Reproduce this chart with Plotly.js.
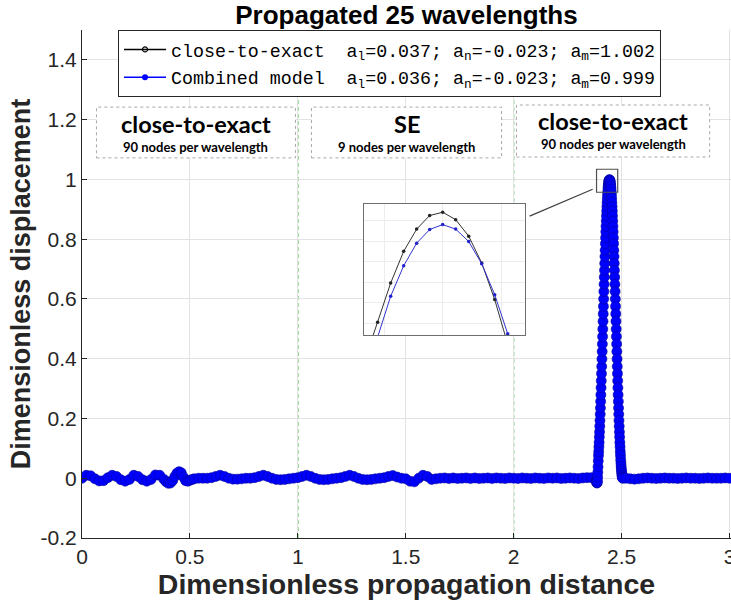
<!DOCTYPE html>
<html><head><meta charset="utf-8">
<script src="https://cdn.plot.ly/plotly-3.0.1.min.js"></script>
<style>html,body{margin:0;padding:0;background:#fff}#chart{width:731px;height:603px}</style>
</head><body><div id="chart"></div>
<script>
// ---- Combined model (blue) ----
const combinedX = [
0.00,0.02,0.04,0.06,0.08,0.10,0.12,0.14,0.16,0.18,
0.20,0.22,0.24,0.26,0.28,0.30,0.32,0.34,0.36,0.38,
0.39,0.40,0.41,0.42,0.43,0.44,0.45,0.46,0.47,0.48,0.49,0.50,0.51,0.52,
0.54,0.56,0.58,
0.60,0.62,0.64,0.66,0.68,0.70,0.72,0.74,0.76,0.78,
0.80,0.82,0.84,0.86,0.88,0.90,0.92,0.94,0.96,0.98,
1.00,1.02,1.04,1.06,1.08,1.10,1.12,1.14,1.16,1.18,
1.20,1.22,1.24,1.26,1.28,1.30,1.32,1.34,1.36,1.38,
1.40,1.42,1.44,1.46,1.48,1.50,1.52,1.54,1.56,1.58,
1.60,1.62,1.64,1.66,1.68,1.70,1.72,1.74,1.76,1.78,
1.80,1.82,1.84,1.86,1.88,1.90,1.92,1.94,1.96,1.98,
2.00,2.02,2.04,2.06,2.08,2.10,2.12,2.14,2.16,2.18,
2.20,2.22,2.24,2.26,2.28,2.30,2.32,2.34,2.36,
2.382,2.383,2.384,2.385,2.386,2.387,2.388,2.389,2.390,2.391,
2.392,2.393,2.394,2.395,2.396,2.397,2.398,2.399,2.400,2.401,
2.402,2.403,2.404,2.405,2.406,2.407,2.408,2.409,2.410,2.411,
2.412,2.413,2.414,2.415,2.416,2.417,2.418,2.419,2.420,2.421,
2.422,2.423,2.424,2.425,2.426,2.427,2.428,2.429,2.430,2.431,
2.432,2.433,2.434,2.435,2.436,2.437,2.438,2.439,2.440,2.441,
2.442,2.443,2.444,2.445,2.446,2.447,2.448,2.449,2.450,2.451,
2.452,2.453,2.454,2.455,2.456,2.457,2.458,2.459,2.460,2.461,
2.462,2.463,2.464,2.465,2.466,2.467,2.468,2.469,2.470,2.471,
2.472,2.473,2.474,2.475,2.476,2.477,2.478,2.479,2.480,2.481,
2.482,2.483,2.484,2.485,2.486,2.487,2.488,2.489,2.490,2.491,
2.492,2.493,2.494,2.495,2.496,2.497,2.498,2.499,2.500,2.501,
2.502,2.503,2.504,2.505,2.506,
2.52,2.54,2.56,2.58,2.60,2.62,2.64,2.66,2.68,2.70,
2.72,2.74,2.76,2.78,2.80,2.82,2.84,2.86,2.88,2.90,
2.92,2.94,2.96,2.98,3.00
];
const combinedY = [
0.000,0.010,0.008,-0.002,-0.009,-0.008,0.002,0.010,0.006,-0.005,
-0.010,-0.004,0.010,0.006,-0.005,-0.010,-0.004,0.011,0.010,-0.004,
-0.012,-0.017,-0.016,-0.008,0.006,0.017,0.022,0.018,0.004,-0.008,-0.010,-0.007,-0.004,-0.002,
0.000,0.000,0.000,
0.002,0.006,0.010,0.006,0.000,-0.003,-0.003,-0.002,0.000,0.000,
0.002,0.006,0.010,0.006,0.000,-0.004,-0.005,-0.004,-0.002,0.000,
0.002,0.006,0.010,0.006,0.000,-0.004,-0.005,-0.004,-0.002,0.000,
0.002,0.006,0.010,0.006,0.000,-0.004,-0.005,-0.004,-0.002,0.000,
0.002,0.006,0.009,0.004,0.000,-0.002,-0.010,-0.012,0.000,0.010,
0.006,-0.004,-0.002,0.000,0.001,-0.001,0.001,-0.001,0.000,0.001,
-0.001,0.001,-0.001,0.000,0.001,-0.001,0.001,0.000,-0.001,0.001,
0.000,-0.001,0.001,0.000,-0.001,0.001,0.000,-0.001,0.001,0.000,
0.001,-0.001,0.000,0.001,0.000,-0.001,0.001,0.002,0.002,
-0.004,-0.008,-0.012,-0.015,-0.016,-0.014,-0.008,0.004,0.020,0.038,
0.058,0.076,0.089,0.105,0.120,0.138,0.155,0.174,0.193,0.214,
0.235,0.257,0.279,0.303,0.326,0.350,0.374,0.399,0.424,0.449,
0.474,0.499,0.525,0.550,0.575,0.600,0.625,0.649,0.673,0.696,
0.719,0.742,0.763,0.785,0.805,0.825,0.843,0.861,0.878,0.894,
0.909,0.923,0.936,0.948,0.958,0.968,0.976,0.983,0.989,0.993,
0.996,0.998,0.999,0.998,0.996,0.993,0.989,0.983,0.976,0.968,
0.958,0.948,0.936,0.923,0.909,0.894,0.878,0.861,0.843,0.825,
0.805,0.785,0.763,0.742,0.719,0.696,0.673,0.649,0.625,0.600,
0.575,0.550,0.525,0.499,0.474,0.449,0.424,0.399,0.374,0.350,
0.326,0.303,0.279,0.257,0.235,0.214,0.193,0.174,0.155,0.138,
0.120,0.105,0.089,0.076,0.062,0.051,0.040,0.031,0.023,0.016,
0.010,0.006,0.003,0.001,0.000,
0.000,-0.002,-0.003,-0.002,0.000,0.001,0.000,-0.001,0.000,0.001,
0.000,0.000,-0.001,0.000,0.001,0.000,0.000,-0.001,0.000,0.001,
0.000,0.000,0.000,0.001,0.000
];

// ---- close-to-exact (black) ----
const exactX = [
0.00,0.05,0.10,0.15,0.20,0.25,0.30,0.35,0.40,0.45,
0.50,0.55,0.60,0.65,0.70,0.75,0.80,0.85,0.90,0.95,
1.00,1.05,1.10,1.15,1.20,1.25,1.30,1.35,1.40,1.45,
1.50,1.55,1.60,1.65,1.70,1.75,1.80,1.85,1.90,1.95,
2.00,2.05,2.10,2.15,2.20,2.25,2.30,2.35,
2.382,2.384,2.386,2.388,2.390,2.392,2.394,2.396,2.398,2.400,
2.402,2.404,2.406,2.408,2.410,2.412,2.414,2.416,2.418,2.420,
2.422,2.424,2.426,2.428,2.430,2.432,2.434,2.436,2.438,2.440,
2.442,2.444,2.446,2.448,2.450,2.452,2.454,2.456,2.458,2.460,
2.462,2.464,2.466,2.468,2.470,2.472,2.474,2.476,2.478,2.480,
2.482,2.484,2.486,2.488,2.490,2.492,2.494,2.496,2.498,2.500,
2.502,2.504,2.506,
2.55,2.60,2.65,2.70,2.75,2.80,2.85,2.90,2.95,3.00
];
const exactY = [
0.000,0.002,-0.001,-0.002,0.001,0.002,-0.001,-0.002,0.001,0.003,
-0.003,0.000,0.000,0.001,0.000,-0.001,0.001,0.000,-0.001,0.001,
0.000,-0.001,0.001,0.000,-0.001,0.001,0.000,-0.001,0.001,0.000,
-0.002,0.002,-0.001,0.000,0.001,0.000,-0.001,0.000,0.001,0.000,
-0.001,0.000,0.001,0.000,-0.001,0.000,0.001,0.000,
-0.004,-0.012,-0.016,-0.008,0.020,0.058,0.089,0.121,0.156,0.194,
0.236,0.280,0.327,0.375,0.425,0.476,0.526,0.577,0.627,0.675,
0.722,0.766,0.808,0.846,0.881,0.912,0.939,0.961,0.979,0.992,
0.999,1.002,0.999,0.992,0.979,0.961,0.939,0.912,0.881,0.846,
0.808,0.766,0.722,0.675,0.627,0.577,0.526,0.476,0.425,0.375,
0.327,0.280,0.236,0.194,0.156,0.121,0.089,0.063,0.040,0.023,
0.010,0.003,0.000,
0.000,-0.001,0.000,0.001,0.000,-0.001,0.000,0.001,0.000,0.000
];

// ---- inset (zoom on the peak), node index around the crest ----
const insetExactIdx = [-6,-5,-4,-3,-2,-1,0,1,2,3,4,5];
const insetExactY   = [0.966,0.9753,0.9848,0.9925,0.9979,1.0012,1.002,1.0002,0.9962,0.9897,0.9808,0.970];
const insetCombIdx  = [-5,-4,-3,-2,-1,0,1,2,3,4,5,6];
const insetCombY    = [0.9717,0.9816,0.9890,0.9945,0.9978,0.9990,0.9979,0.9949,0.9895,0.9820,0.9725,0.962];

// ---- labels ----
const legendNames = [
  'close-to-exact  a<sub>l</sub>=0.037; a<sub>n</sub>=-0.023; a<sub>m</sub>=1.002',
  'Combined model  a<sub>l</sub>=0.036; a<sub>n</sub>=-0.023; a<sub>m</sub>=0.999'
];
const xTickVals = [0,0.5,1,1.5,2,2.5,3];
const xTickText = ['0','0.5','1','1.5','2','2.5','3'];
const yTickVals = [-0.2,0,0.2,0.4,0.6,0.8,1,1.2,1.4];
const yTickText = ['-0.2','0','0.2','0.4','0.6','0.8','1','1.2','1.4'];
const regionBounds = [1,2];
const regionTitles = ['close-to-exact','SE','close-to-exact'];
const regionNotes = ['90 nodes per wavelength','9 nodes per wavelength','90 nodes per wavelength'];

const BLUE = '#0000ff';
const traces = [
  {x: exactX, y: exactY, type:'scatter', mode:'lines+markers', xaxis:'x', yaxis:'y', showlegend:false,
   line:{color:'#000', width:1.5}, marker:{size:3, color:'#000'}},
  {x: combinedX, y: combinedY, type:'scatter', mode:'lines+markers', xaxis:'x', yaxis:'y', showlegend:false,
   line:{color:BLUE, width:4}, marker:{size:10, color:BLUE, line:{color:'#00009a', width:0.6}}},
  // legend entries
  {x:[null], y:[null], type:'scatter', mode:'lines+markers', name:legendNames[0], legendgroup:'a',
   line:{color:'#000', width:1.5}, marker:{size:5, symbol:'circle-open', color:'#000', line:{width:1.2}}},
  {x:[null], y:[null], type:'scatter', mode:'lines+markers', name:legendNames[1], legendgroup:'b',
   line:{color:BLUE, width:1.5}, marker:{size:6, color:BLUE}},
  // inset
  {x: insetExactIdx, y: insetExactY, type:'scatter', mode:'lines+markers', xaxis:'x2', yaxis:'y2', showlegend:false,
   line:{color:'#333', width:1}, marker:{size:3.5, color:'#222'}},
  {x: insetCombIdx, y: insetCombY, type:'scatter', mode:'lines+markers', xaxis:'x2', yaxis:'y2', showlegend:false,
   line:{color:'#3333cc', width:1}, marker:{size:3.5, color:'#2222cc'}}
];

const axisFont = {family:'Liberation Sans, Arial, sans-serif', size:21, color:'#262626'};
const titleFont = {family:'Liberation Sans, Arial, sans-serif', size:27, color:'#262626', weight:'bold'};
const xTitleFont = {family:'Liberation Sans, Arial, sans-serif', size:28.5, color:'#262626', weight:'bold'};

const shapes = [];
regionBounds.forEach(b => shapes.push({type:'line', xref:'x', yref:'paper', x0:b, x1:b, y0:0, y1:1,
  layer:'below', line:{color:'#22b822', width:1.2, dash:'4px,3px'}}));
const boxes = [[0.067,0.989,1.072,1.242],[1.063,1.944,1.072,1.242],[2.013,2.908,1.075,1.249]];
boxes.forEach(b => shapes.push({type:'rect', xref:'x', yref:'y', x0:b[0], x1:b[1], y0:b[2], y1:b[3],
  layer:'above', fillcolor:'#fff', line:{color:'#a8a8a8', width:1, dash:'dot'}}));
shapes.push({type:'rect', xref:'x', yref:'y', x0:2.384, x1:2.482, y0:0.957, y1:1.034, layer:'above',
  line:{color:'#505050', width:1.2}});
shapes.push({type:'line', xref:'x', yref:'y', x0:2.074, y0:0.877, x1:2.366, y1:0.967, layer:'above',
  line:{color:'#404040', width:1.2}});

const annotations = [];
const boxCenters = [0.528, 1.504, 2.461];
const titleY = [1.185, 1.185, 1.195];
const noteY = [1.110, 1.110, 1.117];
boxCenters.forEach((c,i) => {
  annotations.push({xref:'x', yref:'y', x:c, y:titleY[i], text:regionTitles[i], showarrow:false,
    font:{family:'Lato, sans-serif', size:23.5, color:'#000', weight:'bold'}});
  annotations.push({xref:'x', yref:'y', x:c, y:noteY[i], text:regionNotes[i], showarrow:false,
    font:{family:'Lato, sans-serif', size:13, color:'#000', weight:'bold'}});
});

const layout = {
  width:731, height:603,
  margin:{l:82, r:0, t:30, b:65, pad:0},
  paper_bgcolor:'#fff', plot_bgcolor:'#fff',
  showlegend:true,
  title:{text:'Propagated 25 wavelengths', x:0.5, xref:'paper', y:1-15/603, yref:'container', yanchor:'middle',
    font:{family:'Liberation Sans, Arial, sans-serif', size:26, color:'#000', weight:'bold'}},
  legend:{x:0.0555, y:1.0, xanchor:'left', yanchor:'top', bgcolor:'#fff', bordercolor:'#262626', borderwidth:1,
    font:{family:'Liberation Mono, Courier New, monospace', size:18.3, color:'#000'},
    traceorder:'grouped', tracegroupgap:1, itemwidth:42},
  xaxis:{domain:[0,1], range:[0,3.007], tickvals:xTickVals, ticktext:xTickText, showgrid:true, gridcolor:'#e2e2e2',
    zeroline:false, showline:true, linecolor:'#262626', linewidth:1, ticks:'inside', ticklen:5, tickcolor:'#262626',
    tickfont:axisFont, automargin:false, ticklabeloverflow:'allow',
    title:{text:'Dimensionless propagation distance', font:xTitleFont, standoff:3}},
  yaxis:{domain:[0,1], range:[-0.2,1.5], tickvals:yTickVals, ticktext:yTickText, showgrid:true, gridcolor:'#e2e2e2',
    zeroline:false, showline:true, linecolor:'#262626', linewidth:1, ticks:'inside', ticklen:5, tickcolor:'#262626',
    tickfont:axisFont, automargin:false, title:{text:'Dimensionless displacement', font:titleFont, standoff:2}},
  xaxis2:{domain:[0.4345,0.6826], anchor:'y2', range:[-6.05,6.33], showticklabels:false, ticks:'',
    showgrid:true, gridcolor:'#ececec', tick0:0, dtick:4.5, zeroline:false, showline:true, mirror:true,
    linecolor:'#6e6e6e', linewidth:1},
  yaxis2:{domain:[0.3996,0.6575], anchor:'x2', range:[0.9722,1.004], showticklabels:false, ticks:'',
    showgrid:true, gridcolor:'#ececec', tick0:1, dtick:0.005, zeroline:false, showline:true, mirror:true,
    linecolor:'#6e6e6e', linewidth:1},
  shapes: shapes,
  annotations: annotations
};

Plotly.newPlot('chart', traces, layout, {displayModeBar:false, staticPlot:true});
</script>
</body></html>
